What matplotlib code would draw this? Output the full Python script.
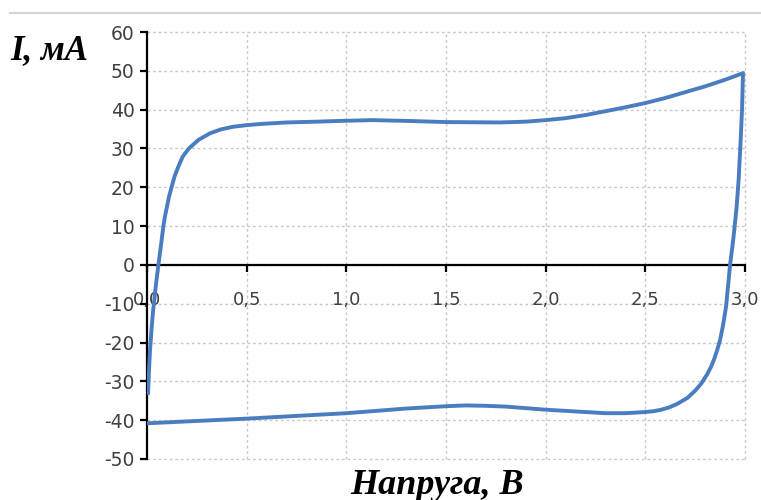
import matplotlib.pyplot as plt
from matplotlib.lines import Line2D

plt.rcParams['axes.unicode_minus'] = False

# цикл ЦВА: напруга (В) та струм (мА)
napruga = [0.005, 0.01, 0.015, 0.022, 0.03, 0.045, 0.057, 0.07, 0.082, 0.09, 0.1, 0.11, 0.123,
           0.138, 0.157, 0.179, 0.21, 0.258, 0.316, 0.37, 0.433, 0.5, 0.567, 0.7, 0.85, 0.97,
           1.13, 1.3, 1.5, 1.77, 1.9, 2.0, 2.1, 2.2, 2.3, 2.4, 2.5, 2.6, 2.7, 2.8, 2.9, 2.99,
           2.985, 2.978, 2.968, 2.958, 2.942, 2.925, 2.905, 2.89, 2.875, 2.86, 2.845, 2.83,
           2.81, 2.78, 2.75, 2.71, 2.66, 2.62, 2.58, 2.54, 2.5, 2.4, 2.3, 2.2, 2.1, 2.0,
           1.9, 1.8, 1.7, 1.6, 1.5, 1.4, 1.3, 1.15, 1.0, 0.75, 0.5, 0.25, 0.0]
strum = [-33, -27, -22, -17, -12, -5, 0, 5, 10, 12.5, 15, 17.5, 20,
         22.8, 25.3, 27.9, 30, 32.2, 33.9, 34.9, 35.6, 36.0, 36.3, 36.7, 36.9, 37.1,
         37.3, 37.1, 36.8, 36.7, 36.9, 37.3, 37.8, 38.6, 39.6, 40.6, 41.7, 43, 44.5, 46, 47.7, 49.4,
         40, 32, 22, 15, 7, 0, -10.7, -15.5, -19.3, -22.0, -24.3, -26.2,
         -28.2, -30.6, -32.4, -34.3, -35.8, -36.7, -37.3, -37.7, -37.9, -38.2, -38.2, -37.9, -37.6, -37.3,
         -36.9, -36.5, -36.3, -36.2, -36.4, -36.7, -37.0, -37.6, -38.2, -38.9, -39.6, -40.2, -40.8]

xticks = [0.5, 1.0, 1.5, 2.0, 2.5, 3.0]
xlabels = ['0,5', '1,0', '1,5', '2,0', '2,5', '3,0']
yticks = list(range(-50, 61, 10))

fig = plt.figure(figsize=(7.61, 5.0), dpi=100)
ax = fig.add_axes([0.1932, 0.082, 0.7858, 0.854])

ax.plot(napruga, strum, color='#4a7dc0', lw=2.8, solid_joinstyle='round', zorder=3)

ax.set_xlim(0, 3.0)
ax.set_ylim(-50, 60)

ax.spines['top'].set_visible(False)
ax.spines['right'].set_visible(False)
ax.spines['bottom'].set_position(('data', 0))
ax.spines['left'].set_linewidth(1.6)
ax.spines['bottom'].set_linewidth(1.6)

ax.set_xticks([0.0] + xticks)
ax.set_xticklabels(['0,0'] + xlabels)
ax.set_yticks(yticks)
ax.tick_params(axis='x', direction='out', length=5, width=1.6, pad=14, labelsize=13, labelcolor='#404040')
ax.tick_params(axis='y', direction='out', length=5, width=1.6, pad=4, labelsize=13.5, labelcolor='#404040')

# сітка пунктиром
for xv in xticks:
    ax.axvline(xv, color='#c8c8c8', lw=1, ls=(0, (2, 2)), zorder=0, clip_on=False)
for yv in yticks:
    ax.axhline(yv, color='#c8c8c8', lw=1, ls=(0, (2, 2)), zorder=0, clip_on=False)

fig.text(0.013, 0.898, 'I, мА', family='Liberation Serif', style='italic', weight='bold', fontsize=25, va='center')
fig.text(0.574, 0.03, 'Напруга, В', family='Liberation Serif', style='italic', weight='bold', fontsize=26, ha='center', va='center')

fig.add_artist(Line2D([0.013, 1.0], [0.974, 0.974], color='#d4d4d4', lw=1.6, transform=fig.transFigure))

fig.savefig('out.png', dpi=100)
